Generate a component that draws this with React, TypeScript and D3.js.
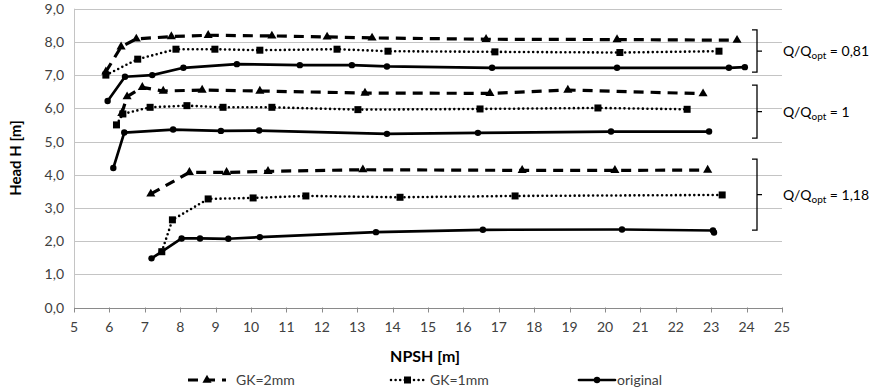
import React from "react";
import * as d3 from "d3";

// ---- data (NPSH [m], Head H [m]) ----
const gk2_081_x = [5.9, 6.33, 6.76, 7.75, 8.79, 10.59, 12.15, 13.42, 16.64, 20.34, 23.73];
const gk2_081_y = [7.1, 7.85, 8.09, 8.16, 8.2, 8.18, 8.15, 8.12, 8.08, 8.07, 8.05];
const gk1_081_x = [5.9, 6.8, 7.88, 8.98, 10.25, 12.43, 13.87, 16.89, 20.42, 23.22];
const gk1_081_y = [7.0, 7.48, 7.78, 7.78, 7.75, 7.78, 7.72, 7.7, 7.68, 7.72];
const orig_081_x = [5.95, 6.44, 7.21, 8.09, 9.6, 11.38, 12.85, 13.84, 16.81, 20.34, 23.5, 23.95];
const orig_081_y = [6.22, 6.95, 7.0, 7.22, 7.33, 7.3, 7.3, 7.26, 7.22, 7.22, 7.22, 7.24];

const gk2_1_x = [6.35, 6.5, 6.93, 7.52, 8.62, 10.25, 13.22, 16.75, 18.95, 22.77];
const gk2_1_y = [5.85, 6.35, 6.63, 6.52, 6.55, 6.52, 6.46, 6.45, 6.55, 6.44];
const gk1_1_x = [6.2, 6.38, 7.15, 8.19, 9.21, 10.59, 13.02, 16.47, 19.8, 22.32];
const gk1_1_y = [5.5, 5.83, 6.03, 6.08, 6.03, 6.03, 5.96, 5.98, 6.01, 5.97];
const orig_1_x = [6.11, 6.42, 7.8, 9.15, 10.23, 13.84, 16.41, 20.17, 22.94];
const orig_1_y = [4.2, 5.27, 5.36, 5.32, 5.33, 5.23, 5.26, 5.3, 5.3];

const gk2_118_x = [7.17, 8.26, 9.31, 10.48, 13.16, 17.66, 20.28, 22.9];
const gk2_118_y = [3.42, 4.07, 4.07, 4.1, 4.15, 4.13, 4.13, 4.14];
const gk1_118_x = [7.48, 7.78, 8.79, 10.06, 11.55, 14.21, 17.46, 23.31];
const gk1_118_y = [1.68, 2.64, 3.27, 3.3, 3.36, 3.32, 3.36, 3.39];
const orig_118_x = [7.19, 7.48, 8.04, 8.56, 9.36, 10.25, 13.53, 16.55, 20.48, 23.05, 23.08];
const orig_118_y = [1.48, 1.68, 2.08, 2.08, 2.07, 2.12, 2.27, 2.34, 2.35, 2.32, 2.26];

const xTicks = d3.range(5, 26, 1);
const yTicks = d3.range(0, 10, 1);

const groupLabels = ["0,81", "1", "1,18"];
const groupRanges = [
  [7.09, 8.36],
  [5.1, 6.7],
  [2.33, 4.47],
];

const legendNames = ["GK=2mm", "GK=1mm", "original"];

type Kind = "dash" | "dot" | "solid";

const series: { xs: number[]; ys: number[]; kind: Kind }[] = [
  { xs: gk2_081_x, ys: gk2_081_y, kind: "dash" },
  { xs: gk1_081_x, ys: gk1_081_y, kind: "dot" },
  { xs: orig_081_x, ys: orig_081_y, kind: "solid" },
  { xs: gk2_1_x, ys: gk2_1_y, kind: "dash" },
  { xs: gk1_1_x, ys: gk1_1_y, kind: "dot" },
  { xs: orig_1_x, ys: orig_1_y, kind: "solid" },
  { xs: gk2_118_x, ys: gk2_118_y, kind: "dash" },
  { xs: gk1_118_x, ys: gk1_118_y, kind: "dot" },
  { xs: orig_118_x, ys: orig_118_y, kind: "solid" },
];

const FONT = "Lato, 'Open Sans', sans-serif";

function Marker({ kind, x, y }: { kind: Kind; x: number; y: number }) {
  if (kind === "solid") return <circle cx={x} cy={y} r={3.2} fill="#000" />;
  if (kind === "dot") return <rect x={x - 3.5} y={y - 3.5} width={7} height={7} fill="#000" />;
  const tri = d3.symbol().type(d3.symbolTriangle).size(36)();
  return <path d={tri || ""} transform={`translate(${x},${y})`} fill="#000" />;
}

function lineStyle(kind: Kind) {
  if (kind === "dash") return { strokeWidth: 3.2, strokeDasharray: "10,7", strokeLinecap: "butt" as const };
  if (kind === "dot") return { strokeWidth: 2.6, strokeDasharray: "0,4.6", strokeLinecap: "round" as const };
  return { strokeWidth: 2.7, strokeDasharray: undefined, strokeLinecap: "round" as const };
}

export default function App() {
  const W = 881;
  const H = 391;
  const x = d3.scaleLinear().domain([5, 25]).range([74, 782]);
  const y = d3.scaleLinear().domain([0, 9]).range([307.5, 8.7]);
  const line = d3
    .line<[number, number]>()
    .x((d) => x(d[0]))
    .y((d) => y(d[1]));

  const legendItems = [
    { kind: "dash" as Kind, x0: 188, x1: 226, tx: 236 },
    { kind: "dot" as Kind, x0: 391, x1: 424, tx: 430 },
    { kind: "solid" as Kind, x0: 579, x1: 615, tx: 617 },
  ];
  const legendY = 380;

  return (
    <svg width={W} height={H} style={{ position: "absolute", left: 0, top: 0, background: "#fff" }}>
      <rect x={0} y={0} width={W} height={H} fill="#fff" />
      {/* gridlines */}
      {yTicks.slice(1).map((t) => (
        <line key={t} x1={x(5)} x2={x(25)} y1={Math.round(y(t)) + 0.5} y2={Math.round(y(t)) + 0.5} stroke="#c4c4c4" strokeWidth={1} />
      ))}
      {/* axes */}
      <line x1={x(5) + 0.5} x2={x(5) + 0.5} y1={y(9)} y2={y(0)} stroke="#c4c4c4" strokeWidth={1} />
      <line x1={x(5)} x2={x(25)} y1={Math.round(y(0)) + 0.5} y2={Math.round(y(0)) + 0.5} stroke="#8a8a8a" strokeWidth={1} />
      {xTicks.map((t) => (
        <g key={t}>
          <line x1={Math.round(x(t)) + 0.5} x2={Math.round(x(t)) + 0.5} y1={y(0)} y2={y(0) + 5} stroke="#8a8a8a" />
          <text x={x(t)} y={332} textAnchor="middle" fontFamily={FONT} fontSize={14} fill="#404040">
            {t}
          </text>
        </g>
      ))}
      {yTicks.map((t) => (
        <text key={t} x={64} y={y(t) + 5} textAnchor="end" fontFamily={FONT} fontSize={14} fill="#404040">
          {d3.format(".1f")(t).replace(".", ",")}
        </text>
      ))}
      <text
        transform={`translate(21,${(y(0) + y(9)) / 2}) rotate(-90)`}
        textAnchor="middle"
        fontFamily={FONT}
        fontSize={15}
        fontWeight="bold"
        fill="#000"
      >
        Head H [m]
      </text>
      <text x={425} y={362} textAnchor="middle" fontFamily={FONT} fontSize={16} fontWeight="bold" fill="#000">
        NPSH [m]
      </text>

      {/* series */}
      {series.map((s, i) => {
        const pts: [number, number][] = s.xs.map((v, j) => [v, s.ys[j]]);
        const st = lineStyle(s.kind);
        return (
          <g key={i}>
            <path
              d={line(pts) || ""}
              fill="none"
              stroke="#000"
              strokeWidth={st.strokeWidth}
              strokeDasharray={st.strokeDasharray}
              strokeLinecap={st.strokeLinecap}
              strokeLinejoin="round"
            />
            {pts.map((p, j) => (
              <Marker key={j} kind={s.kind} x={x(p[0])} y={y(p[1])} />
            ))}
          </g>
        );
      })}

      {/* brackets */}
      {groupRanges.map((r, i) => {
        const top = y(r[1]);
        const bot = y(r[0]);
        const mid = (top + bot) / 2;
        return (
          <g key={i}>
            <path
              d={`M752,${top} H757 V${bot} H752 M757,${mid} H762`}
              fill="none"
              stroke="#000"
              strokeWidth={1.3}
            />
            <text x={783} y={mid + 5} fontFamily={FONT} fontSize={14} fill="#000">
              Q/Q
              <tspan fontSize={10} dy={3}>opt</tspan>
              <tspan dy={-3}> = {groupLabels[i]}</tspan>
            </text>
          </g>
        );
      })}

      {/* legend */}
      {legendItems.map((it, i) => {
        const st = lineStyle(it.kind);
        const mx = (it.x0 + it.x1) / 2;
        return (
          <g key={i}>
            <line
              x1={it.x0}
              x2={it.x1}
              y1={legendY}
              y2={legendY}
              stroke="#000"
              strokeWidth={st.strokeWidth}
              strokeDasharray={st.strokeDasharray}
              strokeLinecap={st.strokeLinecap}
            />
            <Marker kind={it.kind} x={mx} y={legendY} />
            <text x={it.tx} y={legendY + 5} fontFamily={FONT} fontSize={14} fill="#404040">
              {legendNames[i]}
            </text>
          </g>
        );
      })}
    </svg>
  );
}
